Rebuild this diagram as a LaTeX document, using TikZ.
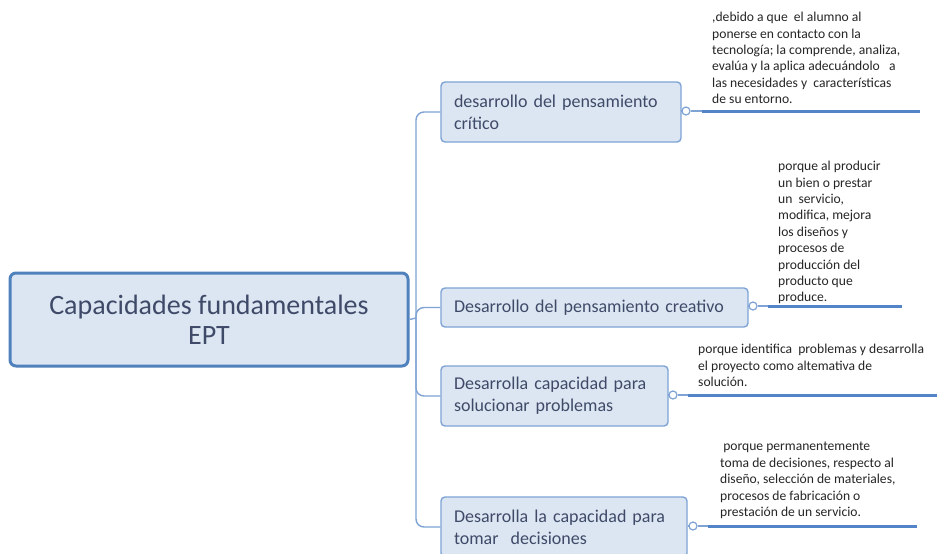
\documentclass[tikz,border=0pt]{standalone}
\usepackage{fontspec}
\setmainfont{Carlito}
\definecolor{boxfill}{RGB}{220,230,242}
\definecolor{mainborder}{RGB}{79,129,189}
\definecolor{subborder}{RGB}{126,163,212}
\definecolor{linecol}{RGB}{126,163,212}
\definecolor{thickcol}{RGB}{84,132,200}
\definecolor{nodetext}{RGB}{62,74,104}
\definecolor{notetext}{RGB}{38,38,38}
\tikzset{
  mainbox/.style={draw=mainborder, line width=3pt, fill=boxfill, rounded corners=6pt,
    minimum width=398pt, minimum height=93pt, inner sep=0pt, align=center,
    text=nodetext, font=\fontsize{28}{30}\selectfont},
  subbox/.style={draw=subborder, line width=1.4pt, fill=boxfill, rounded corners=4pt,
    inner xsep=13pt, inner ysep=0pt, align=left, text=nodetext,
    font=\fontsize{18}{22}\selectfont},
  conn/.style={draw=linecol, line width=1.4pt, rounded corners=8pt},
  knob/.style={circle, draw=linecol, line width=1.2pt, fill=white, minimum size=8pt, inner sep=0pt},
  bar/.style={draw=thickcol, line width=3pt},
  note/.style={anchor=north west, inner sep=0pt, align=left, text=notetext,
    font=\fontsize{13.6}{16.4}\selectfont},
}
\begin{document}
\begin{tikzpicture}[x=1pt,y=-1pt]
\clip (0,0) rectangle (937,554);
\fill[white] (0,0) rectangle (937,554);

% main node
\node[mainbox] (main) at (209,319.5) {Capacidades fundamentales\\EPT};

% branch nodes
\node[subbox, minimum width=240pt, minimum height=60pt, text width=214pt] (n1) at (561,112) {desarrollo del pensamiento\\crítico};
\node[subbox, minimum width=307pt, minimum height=39pt, text width=281pt] (n2) at (594.5,307.5) {Desarrollo del pensamiento creativo};
\node[subbox, minimum width=227pt, minimum height=60pt, text width=201pt] (n3) at (554.5,396) {Desarrolla capacidad para\\solucionar problemas};
\node[subbox, minimum width=246pt, minimum height=60pt, text width=220pt] (n4) at (564,527) {Desarrolla la capacidad para\\tomar\ \ decisiones};

% spine
\coordinate (spine) at (416,318);
\draw[conn] (main.east) -- (spine);
\draw[conn] (n1.west) -| (spine) |- (n4.west);
\draw[conn] (spine) |- (n2.west);
\draw[conn] (spine) |- (n3.west);

% knobs
\node[knob] (k1) at (686,111) {};
\node[knob] (k2) at (753,306) {};
\node[knob] (k3) at (673,395) {};
\node[knob] (k4) at (693,526) {};
\draw[conn] (n1.east |- k1) -- (k1);
\draw[conn] (n2.east |- k2) -- (k2);
\draw[conn] (n3.east |- k3) -- (k3);
\draw[conn] (n4.east |- k4) -- (k4);

\coordinate (b1s) at (702,111); \coordinate (b1e) at (920,111);
\coordinate (b2s) at (768,306); \coordinate (b2e) at (902,306);
\coordinate (b3s) at (688,395); \coordinate (b3e) at (937,395);
\coordinate (b4s) at (708,526); \coordinate (b4e) at (917,526);
\draw[conn] (k1) -- (b1s); \draw[bar] (b1s) -- (b1e);
\draw[conn] (k2) -- (b2s); \draw[bar] (b2s) -- (b2e);
\draw[conn] (k3) -- (b3s); \draw[bar] (b3s) -- (b3e);
\draw[conn] (k4) -- (b4s); \draw[bar] (b4s) -- (b4e);

% notes
\node[note] (t1) at (712,12) {,debido a que\ \ el alumno al\\ponerse en contacto con la\\tecnología; la comprende, analiza,\\evalúa y la aplica adecuándolo\ \ \ a\\las necesidades y\ \ características\\de su entorno.};
\node[note] (t2) at (778,161) {porque al producir\\un bien o prestar\\un\ \ servicio,\\modifica, mejora\\los diseños y\\procesos de\\producción del\\producto que\\produce.};
\node[note] (t3) at (698,344) {porque identifica\ \ problemas y desarrolla\\el proyecto como altemativa de\\solución.};
\node[note] (t4) at (720,442) {\ porque permanentemente\\toma de decisiones, respecto al\\diseño, selección de materiales,\\procesos de fabricación o\\prestación de un servicio.};
\end{tikzpicture}
\end{document}
